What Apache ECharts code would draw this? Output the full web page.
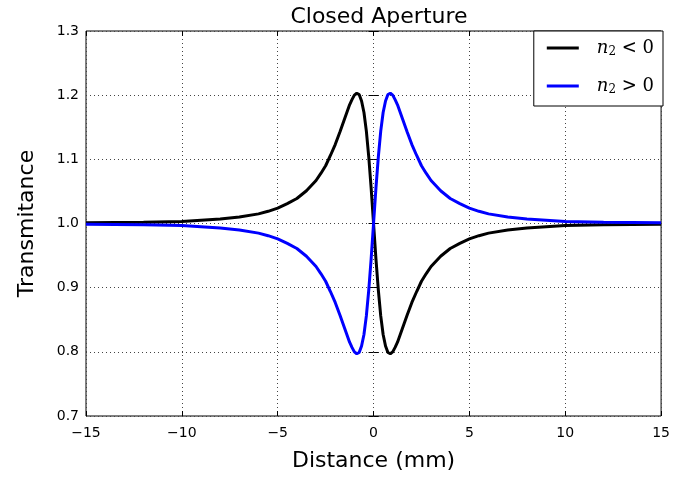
<!DOCTYPE html>
<html>
<head>
<meta charset="utf-8">
<script src="https://cdn.jsdelivr.net/npm/echarts@6/dist/echarts.min.js"></script>
<style>html,body{margin:0;padding:0;background:#fff}#c{width:673px;height:479px}</style>
</head>
<body>
<div id="c"></div>
<script>
const distance = [-15, -12, -10, -8, -7, -6, -5.5, -5, -4.5, -4, -3.5, -3, -2.75, -2.5, -2.25, -2, -1.75, -1.5, -1.25, -1.125, -1,
  -0.875, -0.75, -0.625, -0.5, -0.375, -0.25, -0.125, 0,
  0.125, 0.25, 0.375, 0.5, 0.625, 0.75, 0.875,
  1, 1.125, 1.25, 1.5, 1.75, 2, 2.25, 2.5, 2.75, 3, 3.5, 4, 4.5, 5, 5.5, 6, 7, 8, 10, 12, 15];
const negN2 = [1.001, 1.002, 1.003, 1.007, 1.010, 1.015, 1.019, 1.024, 1.031, 1.039, 1.051, 1.067, 1.078, 1.090, 1.106, 1.123, 1.143, 1.164, 1.185, 1.193, 1.200,
  1.203, 1.201, 1.191, 1.173, 1.144, 1.104, 1.055, 1.000,
  0.945, 0.896, 0.856, 0.827, 0.809, 0.799, 0.797,
  0.800, 0.807, 0.815, 0.836, 0.857, 0.877, 0.894, 0.910, 0.922, 0.933, 0.949, 0.961, 0.969, 0.976, 0.981, 0.985, 0.990, 0.993, 0.997, 0.998, 0.999];
const posN2 = [0.999, 0.998, 0.997, 0.993, 0.990, 0.985, 0.981, 0.976, 0.969, 0.961, 0.949, 0.933, 0.922, 0.910, 0.894, 0.877, 0.857, 0.836, 0.815, 0.807, 0.800,
  0.797, 0.799, 0.809, 0.827, 0.856, 0.896, 0.945, 1.000,
  1.055, 1.104, 1.144, 1.173, 1.191, 1.201, 1.203,
  1.200, 1.193, 1.185, 1.164, 1.143, 1.123, 1.106, 1.090, 1.078, 1.067, 1.051, 1.039, 1.031, 1.024, 1.019, 1.015, 1.010, 1.007, 1.003, 1.002, 1.001];
const seriesNames = ['n2<0', 'n2>0'];
const legendLabels = {'n2<0': '<', 'n2>0': '>'};
const titleText = 'Closed Aperture';
const xName = 'Distance (mm)';
const yName = 'Transmitance';

const chart = echarts.init(document.getElementById('c'));
const font = 'DejaVu Sans';
const minus = v => String(v).replace('-', '\u2212');
const gridLine = {show: true, lineStyle: {color: '#444', type: [1, 3], width: 1}};
const tick = {show: true, inside: true, length: 5, lineStyle: {color: '#000'}};
chart.setOption({
  animation: false,
  backgroundColor: '#fff',
  title: {
    text: titleText, left: 374, top: 1, textAlign: 'center',
    textStyle: {fontFamily: font, fontSize: 22, fontWeight: 'normal', color: '#000'}
  },
  grid: {left: 86, right: 10, top: 31, bottom: 63, show: true, borderColor: '#000', borderWidth: 1, backgroundColor: 'transparent'},
  legend: {
    orient: 'vertical', right: 10, top: 31, data: seriesNames,
    backgroundColor: '#fff', borderColor: '#000', borderWidth: 1, borderRadius: 0,
    padding: [8, 9, 10, 13], itemGap: 19, itemWidth: 32, itemHeight: 3,
    icon: 'rect',
    formatter: n => '{n|n}{s|2}{t| ' + legendLabels[n] + ' 0}',
    textStyle: {
      color: '#000',
      rich: {
        n: {fontFamily: 'DejaVu Serif', fontStyle: 'italic', fontSize: 18, color: '#000', padding: [0, 0, 0, 13]},
        s: {fontFamily: 'DejaVu Serif', fontSize: 12, color: '#000', padding: [8, 0, 0, 0]},
        t: {fontFamily: 'DejaVu Serif', fontSize: 18, color: '#000'}
      }
    }
  },
  xAxis: [{
    type: 'value', min: -15, max: 15, interval: 5,
    name: xName, nameLocation: 'middle', nameGap: 34,
    nameTextStyle: {fontFamily: font, fontSize: 22, color: '#000'},
    axisLine: {show: false}, axisTick: tick, splitLine: gridLine,
    axisLabel: {fontFamily: font, fontSize: 14, color: '#000', margin: 10, formatter: minus}
  }, {
    type: 'value', min: -15, max: 15, interval: 5, position: 'top',
    axisLine: {show: false}, axisTick: tick, splitLine: {show: false}, axisLabel: {show: false}
  }],
  yAxis: [{
    type: 'value', min: 0.7, max: 1.3, interval: 0.1,
    name: yName, nameLocation: 'middle', nameGap: 48,
    nameTextStyle: {fontFamily: font, fontSize: 22, color: '#000'},
    axisLine: {show: false}, axisTick: tick, splitLine: gridLine,
    axisLabel: {fontFamily: font, fontSize: 14, color: '#000', margin: 7, formatter: v => v.toFixed(1)}
  }, {
    type: 'value', min: 0.7, max: 1.3, interval: 0.1, position: 'right',
    axisLine: {show: false}, axisTick: tick, splitLine: {show: false}, axisLabel: {show: false}
  }],
  series: [{
    name: seriesNames[0], type: 'line', showSymbol: false, smooth: false,
    data: distance.map((x, i) => [x, negN2[i]]),
    lineStyle: {color: '#000', width: 3}, itemStyle: {color: '#000'}
  }, {
    name: seriesNames[1], type: 'line', showSymbol: false, smooth: false,
    data: distance.map((x, i) => [x, posN2[i]]),
    lineStyle: {color: '#0000ff', width: 3}, itemStyle: {color: '#0000ff'}
  }]
});
</script>
</body>
</html>
